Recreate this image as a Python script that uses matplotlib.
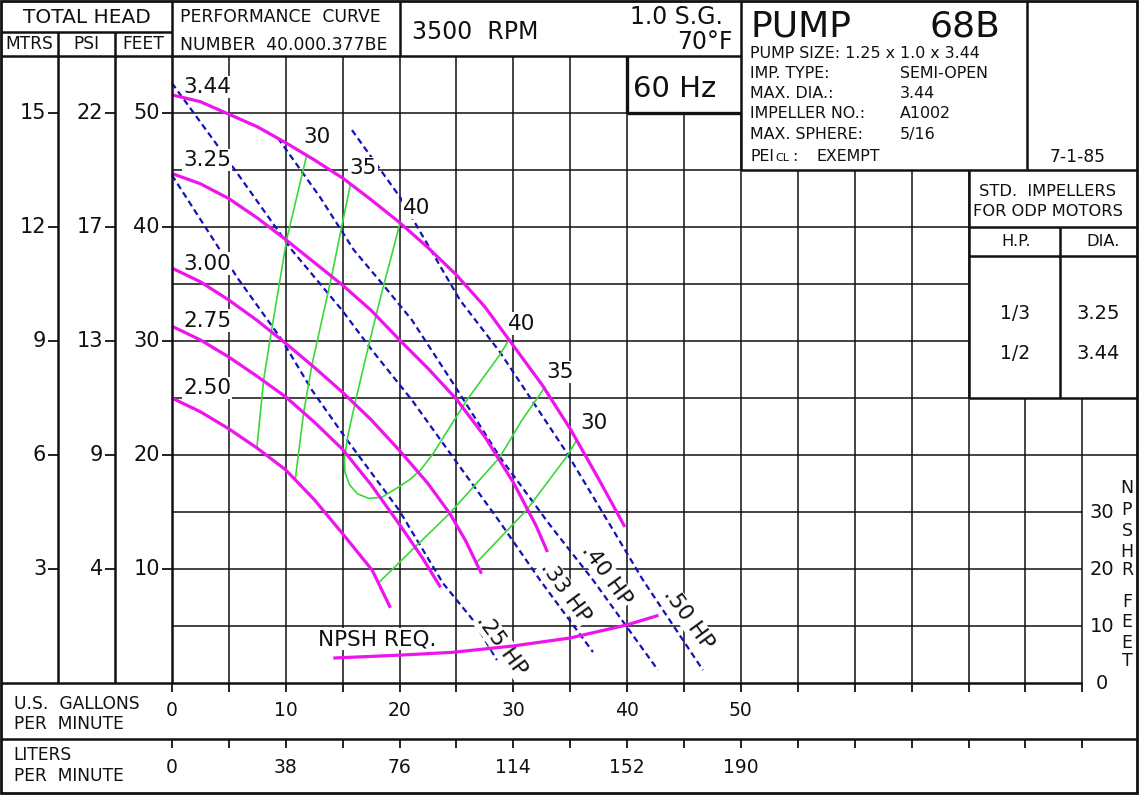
import matplotlib
matplotlib.use('Agg')
import matplotlib.pyplot as plt
import matplotlib.transforms as mtransforms
from matplotlib.patches import Rectangle

plt.rcParams['font.family'] = ['DejaVu Sans']

# head-capacity curves per impeller diameter (GPM, feet)
dia_names = ['3.44', '3.25', '3.00', '2.75', '2.50']
q_344 = [0, 2.5, 5, 7.5, 10, 12.5, 15, 17.5, 20, 22.5, 25, 27.5, 30, 32.5, 35, 37.5, 39.8]
h_344 = [51.6, 51.0, 49.9, 48.8, 47.4, 45.9, 44.3, 42.4, 40.4, 38.2, 35.8, 33.0, 29.6, 26.2, 22.3, 17.9, 13.7]
q_325 = [0, 2.5, 5, 7.5, 10, 12.5, 15, 17.5, 20, 22.5, 25, 27.5, 30, 32, 33]
h_325 = [44.7, 43.8, 42.5, 40.8, 38.9, 36.9, 34.9, 32.7, 30.1, 27.6, 24.9, 21.6, 17.6, 13.8, 11.5]
q_300 = [0, 2.5, 5, 7.5, 10, 12.5, 15, 17.5, 20, 22.5, 24.4, 25.8, 27.2]
h_300 = [36.4, 35.2, 33.6, 31.8, 29.8, 27.7, 25.5, 23.1, 20.4, 17.5, 14.9, 12.5, 9.6]
q_275 = [0, 2.5, 5, 7.5, 10, 12.5, 15, 17.5, 20, 22, 23.6]
h_275 = [31.3, 30.1, 28.6, 26.9, 25.1, 22.9, 20.5, 17.4, 13.9, 11.0, 8.4]
q_250 = [0, 2.5, 5, 7.5, 10, 12.5, 15, 17.6, 19.2]
h_250 = [25.0, 23.8, 22.3, 20.6, 18.7, 16.1, 13.1, 9.9, 6.6]
dia_label_h = [52.3, 45.9, 36.8, 31.8, 25.9]

# efficiency contours (%)
eff30_q = [11.84, 10.08, 9.05, 8.79, 8.06, 7.47]
eff30_h = [46.3, 38.9, 32.7, 31.2, 26.6, 20.7]
eff35_q = [15.70, 14.91, 14.50, 14.06, 12.30, 11.57, 10.83]
eff35_h = [43.8, 40.0, 38.0, 35.8, 27.9, 23.7, 17.8]
eff40_q = [20.04, 19.3, 18.5, 17.7, 16.9, 16.1, 15.5, 15.15, 15.2, 15.6, 16.3, 17.3,
           18.45, 19.92, 20.9, 21.9, 23.0, 25.9, 28.82, 29.6]
eff40_h = [40.35, 37.5, 34.5, 31.3, 28.0, 24.6, 21.9, 19.8, 18.5, 17.4, 16.6, 16.2,
           16.3, 17.2, 17.85, 18.75, 20.2, 24.8, 28.8, 30.1]
eff35r_q = [32.78, 30.76, 28.82, 24.43, 21.18, 18.16]
eff35r_h = [25.96, 23.07, 19.82, 14.91, 11.75, 8.8]
eff30r_q = [35.56, 34.68, 31.17, 26.8]
eff30r_h = [21.3, 19.85, 15.18, 10.6]
eff_labels = ['30', '35', '40', '40', '35', '30']
eff_label_q = [12.74, 16.78, 21.53, 30.71, 34.1, 37.04]
eff_label_h = [47.94, 45.18, 41.71, 31.54, 27.32, 22.85]

# brake horsepower lines
hp_names = ['.25 HP', '.33 HP', '.40 HP', '.50 HP']
hp25_q = [0, 3.95, 5.71, 9.67, 12.30, 15.20, 19.95, 23.81, 26.45, 28.56]
hp25_h = [44.56, 38.42, 35.61, 30.09, 25.70, 21.58, 15.18, 8.77, 5.53, 2.02]
hp33_q = [0, 3.78, 5.98, 10.54, 14.94, 17.57, 21.09, 24.69, 28.82, 32.34, 37.0]
hp33_h = [52.63, 47.46, 44.39, 37.98, 32.72, 29.21, 24.82, 19.82, 14.12, 9.04, 2.72]
hp40_q = [9.31, 13.01, 15.99, 18.72, 21.09, 24.69, 28.82, 33.22, 37.0, 42.71]
hp40_h = [47.81, 42.63, 37.98, 34.74, 31.84, 26.32, 19.82, 13.86, 9.04, 1.14]
hp50_q = [15.82, 20.04, 25.31, 28.82, 34.71, 39.98, 41.39, 46.66]
hp50_h = [48.51, 42.63, 33.6, 29.04, 20.18, 11.4, 9.04, 1.14]
hp_label_q = [29.0, 34.62, 38.22, 45.43]
hp_label_h = [3.33, 7.98, 9.47, 5.61]

# NPSH required (right scale, feet)
npsh_q = [14.32, 20.04, 24.69, 29.96, 34.97, 39.98, 42.62]
npsh_ft = [4.4, 4.9, 5.4, 6.5, 7.9, 10.2, 11.8]
npsh_ticks = [0, 10, 20, 30]

# axis tick labels
feet_ticks = [50, 40, 30, 20, 10]
mtrs_labels = ['15', '12', '9', '6', '3']
psi_labels = ['22', '17', '13', '9', '4']
gpm_ticks = [0, 10, 20, 30, 40, 50]
lpm_labels = ['0', '38', '76', '114', '152', '190']

MAG = '#ee14ee'
GRN = '#3ad83a'
BLU = '#1212b8'
INK = '#111111'

fig = plt.figure(figsize=(11.4, 7.95), dpi=100)
ax = fig.add_axes([0, 0, 1, 1])
ax.set_xlim(-15.11, 85.07)
ax.set_ylim(-9.82, 59.92)
ax.axis('off')

L, R, T, B = -15.03, 84.85, 59.82, -9.65

# grid
ax.vlines(range(5, 85, 5), 0, 55, color=INK, lw=1.1, zorder=1)
ax.hlines(range(5, 55, 5), 0, 80, color=INK, lw=1.1, zorder=1)
ax.hlines(20, 80, R, color=INK, lw=1.1, zorder=1)

# header boxes cover the grid
for x0, y0, w, h in [(40, 50, 10, 5), (50, 45, R - 50, T - 45), (70, 25, R - 70, 20)]:
    ax.add_patch(Rectangle((x0, y0), w, h, facecolor='white', edgecolor='none', zorder=2))

box = dict(color=INK, lw=1.8, zorder=7)
ax.add_patch(Rectangle((L, B), R - L, T - B, fill=False, edgecolor=INK, lw=2, zorder=7))
ax.hlines(57.08, L, 0, **box)
ax.hlines(55, L, 50, **box)
ax.vlines([-10, -5], 0, 57.08, **box)
ax.vlines(0, 0, T, **box)
ax.vlines(20, 55, T, **box)
ax.vlines(50, 45, T, **box)
ax.vlines(40, 50, 55, color=INK, lw=2.4, zorder=7)
ax.hlines(50, 40, 50, color=INK, lw=2.4, zorder=7)
ax.hlines(45, 50, R, **box)
ax.vlines(75.1, 45, T, **box)
ax.vlines(70, 25, 45, **box)
ax.hlines([40, 37.5, 25], 70, R, **box)
ax.vlines(78.05, 25, 40, **box)
ax.hlines(0, L, 80, **box)
ax.hlines(-4.91, L, R, **box)
ax.vlines(range(0, 85, 5), -0.75, 0, color=INK, lw=1.3, zorder=7)
ax.vlines(range(0, 85, 5), -5.66, -4.91, color=INK, lw=1.3, zorder=7)

# left scales
for col, labels in [(-10, mtrs_labels), (-5, psi_labels), (0, [str(v) for v in feet_ticks])]:
    ax.hlines(feet_ticks, col - 0.88, col, color=INK, lw=1.3, zorder=7)
    for h, lab in zip(feet_ticks, labels):
        ax.text(col - 1.05, h, lab, ha='right', va='center', fontsize=15, color=INK)

# bottom scales
for q, lab in zip(gpm_ticks, gpm_ticks):
    ax.text(q, -2.37, str(lab), ha='center', va='center', fontsize=13.5, color=INK)
for q, lab in zip(gpm_ticks, lpm_labels):
    ax.text(q, -7.37, lab, ha='center', va='center', fontsize=13.5, color=INK)
ax.text(-13.9, -1.84, 'U.S.  GALLONS', ha='left', va='center', fontsize=12.3, color=INK)
ax.text(-13.9, -3.6, 'PER  MINUTE', ha='left', va='center', fontsize=12.3, color=INK)
ax.text(-13.9, -6.32, 'LITERS', ha='left', va='center', fontsize=12.3, color=INK)
ax.text(-13.9, -8.16, 'PER  MINUTE', ha='left', va='center', fontsize=12.3, color=INK)

# header text
ax.text(-7.5, 58.4, 'TOTAL HEAD', ha='center', va='center', fontsize=14.5, color=INK)
for q, lab in [(-12.5, 'MTRS'), (-7.5, 'PSI'), (-2.5, 'FEET')]:
    ax.text(q, 56.05, lab, ha='center', va='center', fontsize=12.3, color=INK)
ax.text(0.7, 58.4, 'PERFORMANCE  CURVE', ha='left', va='center', fontsize=12.4, color=INK)
ax.text(0.7, 55.98, 'NUMBER  40.000.377BE', ha='left', va='center', fontsize=12.4, color=INK)
ax.text(21.1, 57.15, '3500  RPM', ha='left', va='center', fontsize=17, color=INK)
ax.text(48.4, 58.45, '1.0 S.G.', ha='right', va='center', fontsize=17, color=INK)
ax.text(49.3, 56.2, '70°F', ha='right', va='center', fontsize=17, color=INK)
ax.text(40.5, 52.1, '60 Hz', ha='left', va='center', fontsize=21, color=INK, zorder=8)

ax.text(50.8, 57.6, 'PUMP', ha='left', va='center', fontsize=26, color=INK, zorder=8)
ax.text(72.76, 57.6, '68B', ha='right', va='center', fontsize=26, color=INK, zorder=8)
ax.text(50.8, 55.27, 'PUMP SIZE: 1.25 x 1.0 x 3.44', ha='left', va='center', fontsize=11.4, color=INK, zorder=8)
info = [('IMP. TYPE:', 'SEMI-OPEN', 53.46), ('MAX. DIA.:', '3.44', 51.73),
        ('IMPELLER NO.:', 'A1002', 49.97), ('MAX. SPHERE:', '5/16', 48.16)]
for k, v, h in info:
    ax.text(50.8, h, k, ha='left', va='center', fontsize=11.4, color=INK, zorder=8)
    ax.text(63.97, h, v, ha='left', va='center', fontsize=11.4, color=INK, zorder=8)
ax.text(50.8, 45.83, 'PEI', ha='left', va='baseline', fontsize=11.4, color=INK, zorder=8)
ax.text(53.0, 45.83, 'CL', ha='left', va='baseline', fontsize=8, color=INK, zorder=8)
ax.text(54.5, 45.83, ':', ha='left', va='baseline', fontsize=11.4, color=INK, zorder=8)
ax.text(56.65, 45.83, 'EXEMPT', ha='left', va='baseline', fontsize=11.4, color=INK, zorder=8)
ax.text(79.57, 46.18, '7-1-85', ha='center', va='center', fontsize=12.3, color=INK, zorder=8)

ax.text(76.9, 43.1, 'STD.  IMPELLERS', ha='center', va='center', fontsize=11.7, color=INK, zorder=8)
ax.text(76.95, 41.34, 'FOR ODP MOTORS', ha='center', va='center', fontsize=11.7, color=INK, zorder=8)
ax.text(74.2, 38.77, 'H.P.', ha='center', va='center', fontsize=11.7, color=INK, zorder=8)
ax.text(81.8, 38.77, 'DIA.', ha='center', va='center', fontsize=11.7, color=INK, zorder=8)
for hp, dia, h in [('1/3', '3.25', 32.46), ('1/2', '3.44', 28.95)]:
    ax.text(74.1, h, hp, ha='center', va='center', fontsize=13.5, color=INK, zorder=8)
    ax.text(81.4, h, dia, ha='center', va='center', fontsize=14, color=INK, zorder=8)

# NPSH scale on the right is half the head scale
npsh_tr = mtransforms.Affine2D().scale(1.0, 0.5) + ax.transData
for v in npsh_ticks:
    ax.text(81.72, v, str(v), ha='center', va='center', fontsize=14, color=INK, transform=npsh_tr)
for ch, h in zip('NPSHR', [17.1, 15.2, 13.33, 11.49, 9.96]):
    ax.text(83.92, h, ch, ha='center', va='center', fontsize=12.5, color=INK)
for ch, h in zip('FEET', [7.13, 5.35, 3.51, 1.95]):
    ax.text(83.92, h, ch, ha='center', va='center', fontsize=12.5, color=INK)

# HP lines
dash = (0, (2.8, 1.8))
for q, h in [(hp25_q, hp25_h), (hp33_q, hp33_h), (hp40_q, hp40_h), (hp50_q, hp50_h)]:
    ax.plot(q, h, color=BLU, lw=1.6, ls=dash, zorder=3)
lbl_box = dict(boxstyle='square,pad=0.05', facecolor='white', edgecolor='none')
for name, q, h in zip(hp_names, hp_label_q, hp_label_h):
    ax.text(q, h, name, ha='center', va='center', rotation=-54, fontsize=15.5,
            color=INK, bbox=lbl_box, zorder=4, rotation_mode='anchor')

# efficiency
for q, h in [(eff30_q, eff30_h), (eff35_q, eff35_h), (eff40_q, eff40_h),
             (eff35r_q, eff35r_h), (eff30r_q, eff30r_h)]:
    ax.plot(q, h, color=GRN, lw=1.2, zorder=5)
for lab, q, h in zip(eff_labels, eff_label_q, eff_label_h):
    ax.text(q, h, lab, ha='center', va='center', fontsize=15.5, color=INK, bbox=lbl_box, zorder=4)

# head curves
for q, h in [(q_344, h_344), (q_325, h_325), (q_300, h_300), (q_275, h_275), (q_250, h_250)]:
    ax.plot(q, h, color=MAG, lw=2.3, zorder=6, solid_capstyle='butt')
for name, h in zip(dia_names, dia_label_h):
    ax.text(0.97, h, name, ha='left', va='center', fontsize=15.5, color=INK, bbox=lbl_box, zorder=4)

# NPSH required
ax.plot(npsh_q, npsh_ft, color=MAG, lw=2.3, zorder=6, transform=npsh_tr)
ax.text(12.83, 3.86, 'NPSH REQ.', ha='left', va='center', fontsize=15.5, color=INK, bbox=lbl_box, zorder=4)

fig.savefig('out.png', dpi=100)
